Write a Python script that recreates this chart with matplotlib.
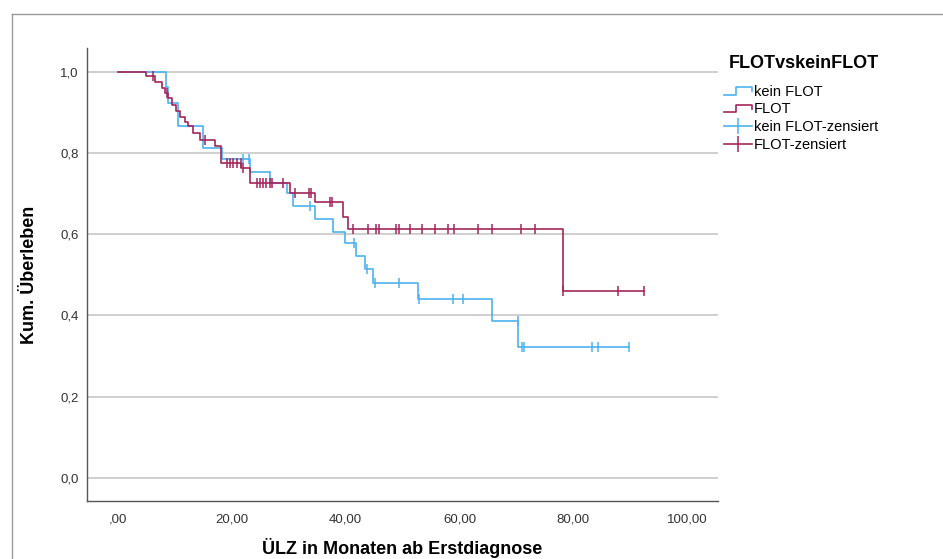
import matplotlib
matplotlib.use("Agg")
import matplotlib.pyplot as plt
from matplotlib.lines import Line2D
from matplotlib.legend_handler import HandlerBase
from matplotlib.ticker import FuncFormatter, MultipleLocator
import numpy as np

plt.rcParams['font.family'] = ['Liberation Sans', 'DejaVu Sans']

# Kaplan-Meier steps (months, cumulative survival)
kein_t = [0, 8.4, 8.8, 10.6, 15.0, 18.3, 23.2, 26.7, 29.7, 30.8, 34.6, 37.8,
          39.9, 41.8, 43.4, 44.8, 52.7, 65.7, 70.3]
kein_s = [1.0, 0.961, 0.922, 0.865, 0.811, 0.786, 0.754, 0.726, 0.700, 0.669,
          0.637, 0.606, 0.578, 0.545, 0.514, 0.480, 0.440, 0.385, 0.321]
kein_cens = [22.0, 23.0, 33.7, 41.5, 43.7, 45.2, 49.4, 52.9, 58.8, 60.6, 70.2,
             70.9, 71.4, 83.3, 84.4, 89.8]

flot_t = [0, 4.9, 6.5, 7.7, 8.3, 8.8, 9.6, 10.3, 11.0, 11.8, 12.4, 13.2, 14.4,
          17.0, 18.2, 21.7, 23.2, 30.2, 34.6, 39.6, 40.5, 78.1]
flot_s = [1.0, 0.99, 0.975, 0.96, 0.947, 0.935, 0.918, 0.904, 0.889, 0.877,
          0.865, 0.85, 0.832, 0.817, 0.775, 0.762, 0.725, 0.702, 0.678, 0.643,
          0.613, 0.46]
flot_cens = [6.2, 8.6, 15.3, 19.1, 19.7, 20.3, 21.0, 21.6, 21.9, 24.4, 25.0,
             25.5, 26.1, 26.7, 27.0, 29.0, 31.1, 33.5, 34.0, 37.3, 37.7, 41.3,
             44.0, 45.3, 45.9, 48.9, 49.4, 51.4, 53.4, 55.7, 57.9, 59.1, 63.3,
             65.7, 70.8, 73.3, 78.1, 87.9, 92.4]

groups = ['kein FLOT', 'FLOT']
colors = ['#4cb3ee', '#a3265b']


def level_at(times, surv, t):
    idx = np.searchsorted(times, t, side='right') - 1
    return surv[idx]


class StepHandler(HandlerBase):
    # little "_|‾|" glyph like the SPSS legend
    def create_artists(self, legend, orig_handle, xdescent, ydescent,
                       width, height, fontsize, trans):
        x0, y0 = -xdescent, -ydescent
        xs = [x0, x0 + 0.45 * width, x0 + 0.45 * width, x0 + width, x0 + width]
        ys = [y0 + 0.1 * height, y0 + 0.1 * height, y0 + 0.85 * height,
              y0 + 0.85 * height, y0 + 0.45 * height]
        return [Line2D(xs, ys, color=orig_handle.get_color(), lw=1.2,
                       transform=trans)]


fig = plt.figure(figsize=(9.43, 5.59), dpi=100)
ax = fig.add_axes([0.0923, 0.1038, 0.6691, 0.8103])

series = [(kein_t, kein_s, kein_cens), (flot_t, flot_s, flot_cens)]
step_handles, cens_handles = [], []
for (t, s, c), name, col in zip(series, groups, colors):
    t_all = list(t) + [max(c)]
    s_all = list(s) + [s[-1]]
    ln, = ax.step(t_all, s_all, where='post', color=col, lw=1.2, zorder=3)
    cs = [level_at(t, s, v) for v in c]
    ax.plot(c, cs, ls='none', marker='|', ms=7.5, mew=1.1, color=col, zorder=4)
    step_handles.append(ln)
    cens_handles.append(Line2D([], [], color=col, lw=1.2, marker='|', ms=11,
                               mew=1.1))

ax.set_xlim(-5.4, 105.4)
ax.set_ylim(-0.057, 1.058)
ax.xaxis.set_major_locator(MultipleLocator(20))
ax.yaxis.set_major_locator(MultipleLocator(0.2))
ax.xaxis.set_major_formatter(FuncFormatter(
    lambda v, p: ',00' if abs(v) < 1e-9 else f'{v:.2f}'.replace('.', ',')))
ax.yaxis.set_major_formatter(FuncFormatter(
    lambda v, p: f'{v:.1f}'.replace('.', ',')))
ax.tick_params(axis='both', length=0, labelsize=9.5, colors='#333333')
ax.tick_params(axis='y', pad=6)
ax.tick_params(axis='x', pad=9)

ax.grid(axis='y', color='#cfcfcf', lw=1.4, zorder=0)
ax.set_axisbelow(True)
for side in ['top', 'right']:
    ax.spines[side].set_visible(False)
for side in ['left', 'bottom']:
    ax.spines[side].set_color('#555555')
    ax.spines[side].set_linewidth(1.0)

ax.set_xlabel('ÜLZ in Monaten ab Erstdiagnose', fontsize=13, fontweight='bold')
ax.set_ylabel('Kum. Überleben', fontsize=13, fontweight='bold')
ax.xaxis.set_label_coords(0.5, -0.081)
ax.yaxis.set_label_coords(-0.078, 0.5)

labels = groups + [g + '-zensiert' for g in groups]
leg = fig.legend(step_handles + cens_handles, labels, loc='upper left',
                 bbox_to_anchor=(718 / 943, 1 - 79 / 559),
                 frameon=False, fontsize=10.5, handlelength=1.9,
                 handletextpad=0.15, labelspacing=0.25, borderaxespad=0,
                 handler_map={h: StepHandler() for h in step_handles})
fig.text(804 / 943, 1 - 63 / 559, 'FLOTvskeinFLOT', ha='center', va='center',
         fontsize=13, fontweight='bold')

# outer grey frame of the chart window
fig.add_artist(Line2D([12 / 943, 1.0], [1 - 14 / 559, 1 - 14 / 559],
                      transform=fig.transFigure, color='#9a9a9a', lw=1.0))
fig.add_artist(Line2D([12 / 943, 12 / 943], [0.0, 1 - 14 / 559],
                      transform=fig.transFigure, color='#9a9a9a', lw=1.0))

fig.savefig('out.png', dpi=100)
